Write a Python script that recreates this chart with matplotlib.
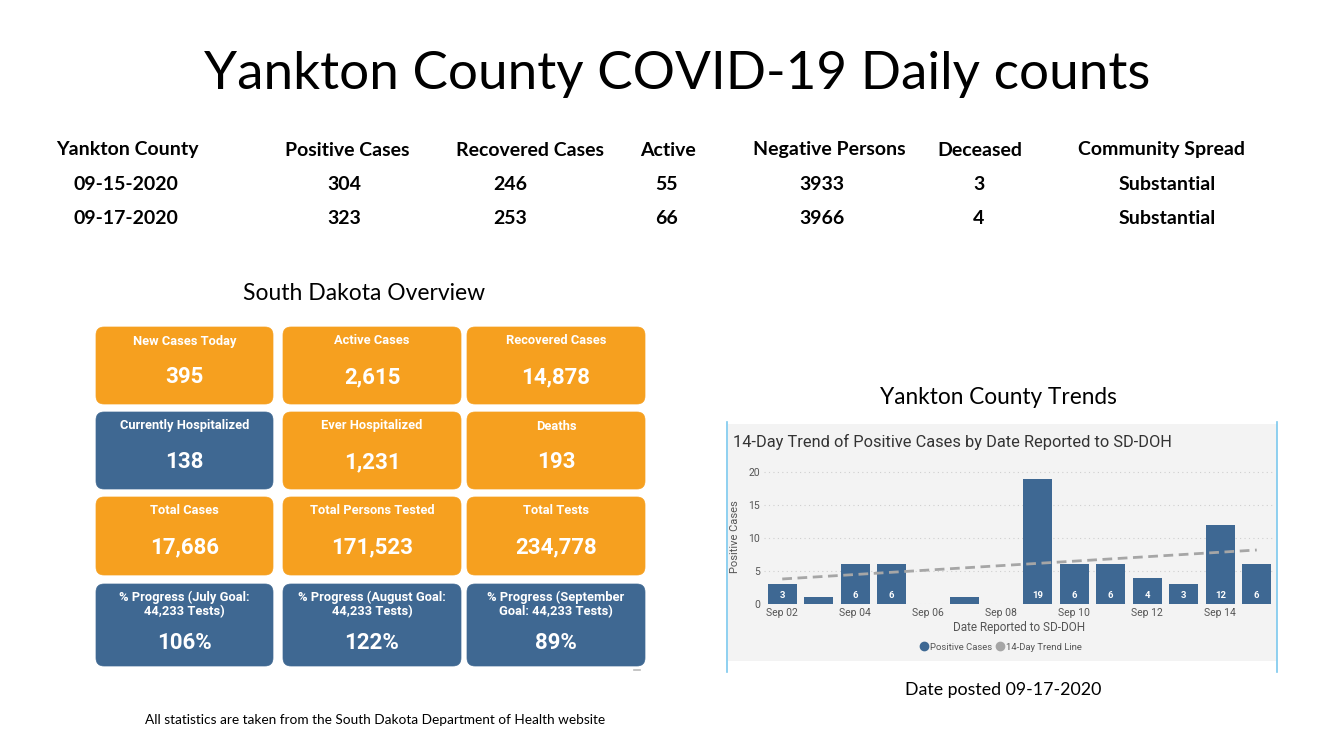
import numpy as np
import matplotlib
matplotlib.use('Agg')
import matplotlib.pyplot as plt
from matplotlib.patches import FancyBboxPatch
from matplotlib.lines import Line2D

# ─────────────────────────────────────────────
#  Data
# ─────────────────────────────────────────────
title = "Yankton County COVID-19 Daily counts"

header_cols = ["Yankton County", "Positive Cases", "Recovered Cases", "Active",
               "Negative Persons", "Deceased", "Community Spread"]
row_0915 = ["09-15-2020", "304", "246", "55", "3933", "3", "Substantial"]
row_0917 = ["09-17-2020", "323", "253", "66", "3966", "4", "Substantial"]

tile_titles = ["New Cases Today", "Active Cases", "Recovered Cases",
               "Currently Hospitalized", "Ever Hospitalized", "Deaths",
               "Total Cases", "Total Persons Tested", "Total Tests",
               "% Progress (July Goal:\n44,233 Tests)",
               "% Progress (August Goal:\n44,233 Tests)",
               "% Progress (September\nGoal: 44,233 Tests)"]
tile_values = ["395", "2,615", "14,878",
               "138", "1,231", "193",
               "17,686", "171,523", "234,778",
               "106%", "122%", "89%"]
tile_kind = ["o", "o", "o",
             "b", "o", "o",
             "o", "o", "o",
             "b", "b", "b"]

dates = ["Sep 02", "Sep 03", "Sep 04", "Sep 05", "Sep 06", "Sep 07", "Sep 08",
         "Sep 09", "Sep 10", "Sep 11", "Sep 12", "Sep 13", "Sep 14", "Sep 15"]
positive_cases = [3, 1, 6, 6, 0, 1, 0, 19, 6, 6, 4, 3, 12, 6]
trend_x = [0, 13]
trend_y = [3.8, 8.2]

# ─────────────────────────────────────────────
#  Style
# ─────────────────────────────────────────────
W, H = 1338, 741
ORANGE = '#F6A01F'
BLUE = '#3F6892'
BAR = '#3E6893'
PANEL = '#F3F3F3'
EDGE = '#7CC8EE'
TXT = '#555555'
MAIN_FONT = 'Lato'
TILE_FONT = 'Roboto'

fig = plt.figure(figsize=(W / 100, H / 100), dpi=100)
fig.patch.set_facecolor('white')
base = fig.add_axes([0, 0, 1, 1])
base.set_xlim(0, W)
base.set_ylim(H, 0)
base.axis('off')

# title
base.text(677, 75, title, ha='center', va='center', fontsize=38.2,
          family=MAIN_FONT, color='black')

# header table
col_x = [127, 347, 530, 668, 829, 980, 1161]
val_x = [126, 344, 510, 666, 822, 979, 1167]
for cx, vx, h, a, b in zip(col_x, val_x, header_cols, row_0915, row_0917):
    base.text(cx, 150, h, ha='center', va='center', fontsize=14,
              fontweight='bold', family=MAIN_FONT)
    base.text(vx, 184, a, ha='center', va='center', fontsize=14,
              fontweight='bold', family=MAIN_FONT)
    base.text(vx, 218, b, ha='center', va='center', fontsize=14,
              fontweight='bold', family=MAIN_FONT)

# South Dakota overview tiles
base.text(364, 293, "South Dakota Overview", ha='center', va='center',
          fontsize=16.5, family=MAIN_FONT)
tx = [(96, 273), (283, 461), (467, 645)]
ty = [(327, 404), (412, 489), (497, 575), (584, 666)]
for i, (t, v, k) in enumerate(zip(tile_titles, tile_values, tile_kind)):
    r, c = divmod(i, 3)
    x0, x1 = tx[c]
    y0, y1 = ty[r]
    col = ORANGE if k == 'o' else BLUE
    box = FancyBboxPatch((x0 + 8, y0 + 8), (x1 - x0) - 16, (y1 - y0) - 16,
                         boxstyle='round,pad=8', fc=col, ec=col, lw=0.5)
    base.add_patch(box)
    xc = (x0 + x1) / 2
    if '\n' in t:
        base.text(xc, y0 + 20, t, ha='center', va='center', fontsize=9.3,
                  fontweight='bold', color='white', family=TILE_FONT,
                  linespacing=1.1)
        base.text(xc, y1 - 23, v, ha='center', va='center', fontsize=16,
                  fontweight='bold', color='white', family=TILE_FONT)
    else:
        base.text(xc, y0 + 14, t, ha='center', va='center', fontsize=9.3,
                  fontweight='bold', color='white', family=TILE_FONT)
        base.text(xc, y0 + 50, v, ha='center', va='center', fontsize=16,
                  fontweight='bold', color='white', family=TILE_FONT)
base.plot([634, 640], [670, 670], color='#bbbbbb', lw=1.2)

base.text(375, 720, "All statistics are taken from the South Dakota Department of Health website",
          ha='center', va='center', fontsize=9.8, family=MAIN_FONT)

# Yankton trends panel
base.text(998, 397, "Yankton County Trends", ha='center', va='center',
          fontsize=16.3, family=MAIN_FONT)
base.add_patch(plt.Rectangle((728, 424), 549, 237, fc=PANEL, ec='none'))
base.plot([727, 727], [422, 672], color=EDGE, lw=1.2)
base.plot([1277, 1277], [422, 672], color=EDGE, lw=1.2)
base.text(733, 442, "14-Day Trend of Positive Cases by Date Reported to SD-DOH",
          ha='left', va='center', fontsize=11.8, color='#333333', family=TILE_FONT)
base.text(1003, 690, "Date posted 09-17-2020", ha='center', va='center',
          fontsize=12.8, family=MAIN_FONT)

# bar chart axes (pixel box -> figure fraction)
left, right, top, bottom = 764, 1275, 469, 604
ax = fig.add_axes([left / W, 1 - bottom / H, (right - left) / W, (bottom - top) / H])
ax.set_facecolor('none')
x = np.arange(len(dates))
ax.bar(x, positive_cases, width=0.79, color=BAR, zorder=2)
ax.plot(trend_x, trend_y, color='#A6A6A6', lw=2, ls=(0, (3.5, 2)), zorder=3)
for xi, v in zip(x, positive_cases):
    if v >= 3:
        ax.text(xi, 1.35, str(v), ha='center', va='center', color='white',
                fontsize=6.8, fontweight='bold', family=TILE_FONT, zorder=4)
ax.set_xlim(-0.5, 13.5)
ax.set_ylim(0, 20.5)
ax.set_yticks([0, 5, 10, 15, 20])
ax.set_xticks(x[::2])
ax.set_xticklabels(dates[::2])
ax.tick_params(length=0, labelsize=7.5, colors=TXT, pad=3)
for lab in ax.get_xticklabels() + ax.get_yticklabels():
    lab.set_family(TILE_FONT)
ax.grid(axis='y', color='#CFCFCF', ls=(0, (1, 3)), lw=0.8, zorder=0)
for s in ax.spines.values():
    s.set_visible(False)
ax.set_ylabel("Positive Cases", fontsize=8, color=TXT, family=TILE_FONT, labelpad=6)
ax.set_xlabel("Date Reported to SD-DOH", fontsize=8.5, color=TXT, family=TILE_FONT, labelpad=2)

handles = [Line2D([], [], marker='o', ls='none', color=BAR, markersize=6),
           Line2D([], [], marker='o', ls='none', color='#A6A6A6', markersize=6)]
leg = fig.legend(handles, ["Positive Cases", "14-Day Trend Line"],
                 loc='center', bbox_to_anchor=(1000 / W, 1 - 647 / H), ncol=2,
                 frameon=False, handletextpad=0.0, columnspacing=0.3,
                 handlelength=1.2, prop={'family': TILE_FONT, 'size': 6.8})
for t in leg.get_texts():
    t.set_color(TXT)

fig.savefig('out.png', dpi=100, facecolor='white')
